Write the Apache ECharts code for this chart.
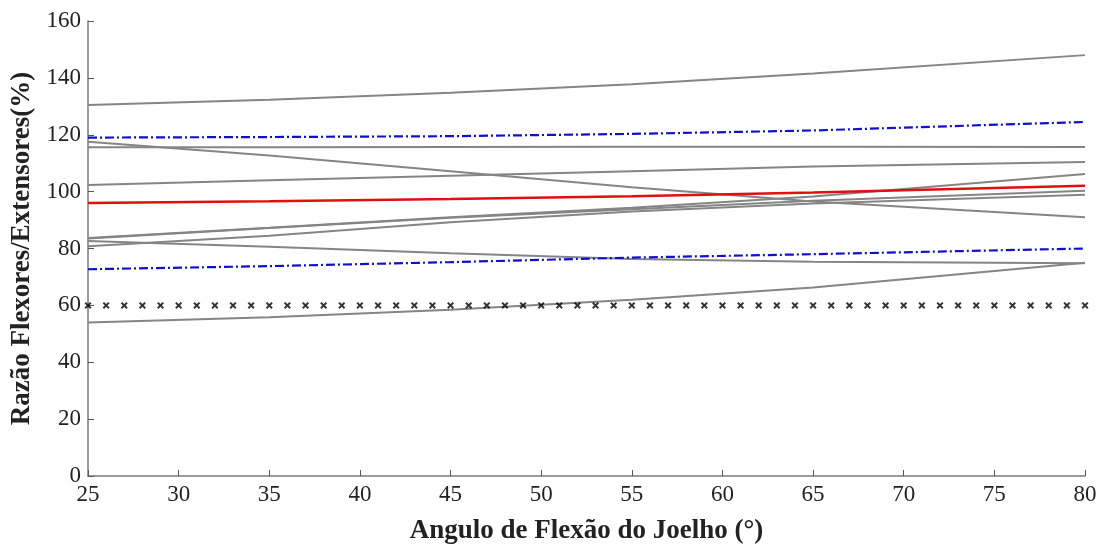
<!DOCTYPE html>
<html>
<head>
<meta charset="utf-8">
<script src="https://cdn.jsdelivr.net/npm/echarts@6/dist/echarts.min.js"></script>
<style>
html, body { margin: 0; padding: 0; background: #fff; }
#main { width: 1109px; height: 550px; }
</style>
</head>
<body>
<div id="main"></div>
<script>
// knee angles where the curves were read
var angles = [25, 35, 45, 55, 65, 80];

// individual subjects (gray)
var subjects = [
    [130.5, 132.3, 134.8, 137.8, 141.5, 148.0],
    [117.5, 112.7, 107.2, 101.5, 96.5, 91.0],
    [115.6, 115.6, 115.7, 115.8, 115.8, 115.7],
    [102.3, 104.0, 105.6, 107.2, 108.8, 110.4],
    [83.7, 87.3, 91.0, 94.3, 98.3, 106.2],
    [83.5, 87.2, 90.8, 93.8, 96.8, 100.3],
    [80.8, 84.5, 89.2, 93.0, 95.8, 98.9],
    [82.6, 80.6, 78.3, 76.3, 75.3, 74.8],
    [54.0, 55.8, 58.5, 62.0, 66.3, 75.0]
];

// mean (red) and +/- std (blue dash-dot)
var mean = [96.0, 96.6, 97.4, 98.4, 99.7, 102.1];
var upper = [119.0, 119.2, 119.5, 120.3, 121.5, 124.5];
var lower = [72.7, 73.8, 75.2, 76.8, 78.0, 80.0];

// reference ratio line, marked at each degree
var refAngles = [25, 26, 27, 28, 29, 30, 31, 32, 33, 34, 35, 36, 37, 38, 39, 40,
    41, 42, 43, 44, 45, 46, 47, 48, 49, 50, 51, 52, 53, 54, 55, 56, 57, 58, 59, 60,
    61, 62, 63, 64, 65, 66, 67, 68, 69, 70, 71, 72, 73, 74, 75, 76, 77, 78, 79, 80];
var refValue = 60;

function pairs(xs, ys) {
    return xs.map(function (x, i) { return [x, ys[i]]; });
}

var series = [];
subjects.forEach(function (s) {
    series.push({
        type: 'line',
        data: pairs(angles, s),
        symbol: 'none',
        lineStyle: { color: '#858585', width: 2 },
        z: 2
    });
});
[upper, lower].forEach(function (s) {
    series.push({
        type: 'line',
        data: pairs(angles, s),
        symbol: 'none',
        lineStyle: { color: '#1010cc', width: 2.2, type: [9, 3, 2, 3] },
        z: 3
    });
});
series.push({
    type: 'line',
    data: pairs(angles, mean),
    symbol: 'none',
    lineStyle: { color: '#e01010', width: 2.5 },
    z: 4
});
series.push({
    type: 'scatter',
    data: refAngles.map(function (x) { return [x, refValue]; }),
    symbol: 'path://M0,2L2,0L5,3L8,0L10,2L7,5L10,8L8,10L5,7L2,10L0,8L3,5Z',
    symbolSize: 7,
    itemStyle: { color: '#000' },
    z: 5
});

var chart = echarts.init(document.getElementById('main'));
var option = {
    animation: false,
    backgroundColor: '#fff',
    grid: { left: 88, right: 24, top: 21, bottom: 70 },
    xAxis: {
        type: 'value',
        min: 25,
        max: 80,
        interval: 5,
        name: 'Angulo de Flexão do Joelho (°)',
        nameLocation: 'middle',
        nameGap: 42,
        nameTextStyle: { fontFamily: 'Liberation Serif', fontWeight: 'bold', fontSize: 27, color: '#222' },
        axisLine: { lineStyle: { color: '#7a7a7a', width: 1.5 } },
        axisTick: { inside: true, length: 6, lineStyle: { color: '#555' } },
        axisLabel: { fontFamily: 'Liberation Serif', fontSize: 23, color: '#222', margin: 7 },
        splitLine: { show: false }
    },
    yAxis: {
        type: 'value',
        min: 0,
        max: 160,
        interval: 20,
        name: 'Razão Flexores/Extensores(%)',
        nameLocation: 'middle',
        nameGap: 47,
        nameTextStyle: { fontFamily: 'Liberation Serif', fontWeight: 'bold', fontSize: 27, color: '#222' },
        axisLine: { show: true, lineStyle: { color: '#7a7a7a', width: 1.5 } },
        axisTick: { show: true, inside: true, length: 6, lineStyle: { color: '#555' } },
        axisLabel: { fontFamily: 'Liberation Serif', fontSize: 23, color: '#222', margin: 7 },
        splitLine: { show: false }
    },
    series: series
};
chart.setOption(option);

window.onresize = chart.resize;
</script>
</body>
</html>
